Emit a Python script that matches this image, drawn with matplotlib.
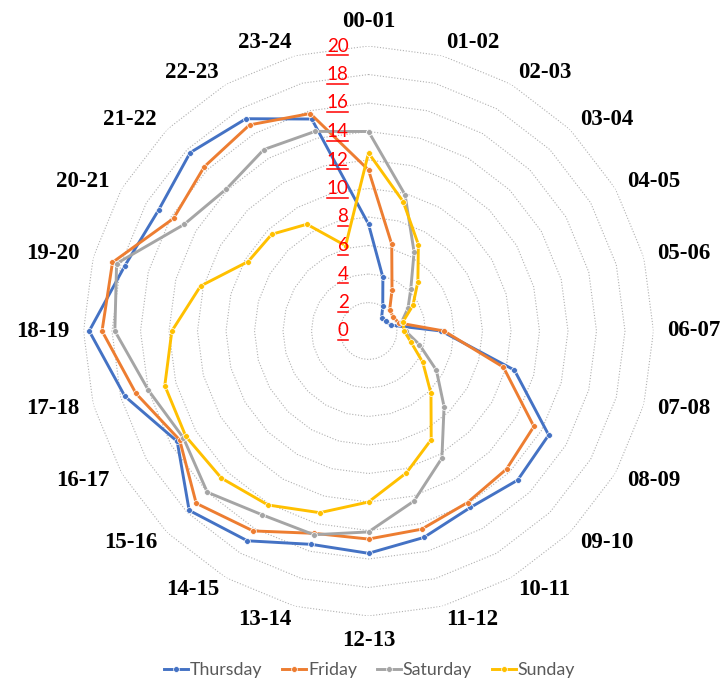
import numpy as np
import matplotlib
matplotlib.use("Agg")
import matplotlib.pyplot as plt
from matplotlib.lines import Line2D
from matplotlib.transforms import offset_copy

categories = ["00-01", "01-02", "02-03", "03-04", "04-05", "05-06", "06-07", "07-08",
              "08-09", "09-10", "10-11", "11-12", "12-13", "13-14", "14-15", "15-16",
              "16-17", "17-18", "18-19", "19-20", "20-21", "21-22", "22-23", "23-24"]

thursday = [7.5, 3.9, 2.0, 1.3, 1.4, 1.6, 5.1, 10.6, 14.6, 14.8, 14.3, 15.0,
            15.6, 15.5, 17.0, 17.8, 15.5, 17.7, 19.6, 17.7, 17.0, 17.7, 17.2, 15.4]
friday = [11.3, 6.3, 3.3, 2.1, 2.0, 2.2, 5.3, 9.8, 13.4, 13.7, 13.9, 14.4,
          14.6, 14.7, 16.2, 17.1, 15.3, 16.9, 18.7, 18.6, 15.8, 16.3, 16.7, 15.8]
saturday = [14.0, 9.9, 6.4, 4.2, 3.2, 2.4, 2.6, 3.7, 5.5, 7.5, 10.3, 12.35,
            14.1, 14.8, 14.9, 16.0, 15.0, 16.0, 17.8, 18.3, 14.95, 14.1, 14.7, 14.5]
sunday = [12.5, 9.4, 7.0, 4.9, 3.6, 2.5, 2.5, 3.1, 4.4, 6.2, 8.8, 10.3,
          12.0, 13.2, 14.1, 14.6, 14.8, 14.8, 13.8, 12.2, 9.75, 9.6, 8.65, 6.2]

series_names = ["Thursday", "Friday", "Saturday", "Sunday"]
series_colors = ["#4472C4", "#ED7D31", "#A5A5A5", "#FFC000"]
radial_ticks = [0, 2, 4, 6, 8, 10, 12, 14, 16, 18, 20]

W, H = 723, 680
fig = plt.figure(figsize=(W / 100, H / 100), dpi=100)
cx, cy, R = 368.5, 331.0, 285.0
ax = fig.add_axes([(cx - R) / W, 1 - (cy + R) / H, 2 * R / W, 2 * R / H], projection="polar")
ax.set_theta_zero_location("N")
ax.set_theta_direction(-1)
ax.set_ylim(0, 20)
ax.grid(False)
ax.set_xticks([])
ax.set_yticks([])
ax.spines["polar"].set_visible(False)
ax.patch.set_alpha(0)

n = len(categories)
theta = np.arange(n) * 2 * np.pi / n
theta_c = np.append(theta, theta[0])

# polygon grid rings
for r in radial_ticks[1:]:
    ax.plot(theta_c, [r] * (n + 1), color="#B0B0B0", lw=0.8,
            linestyle=(0, (1, 1.6)), zorder=1)

data = [thursday, friday, saturday, sunday]
handles = []
for name, vals, col in zip(series_names, data, series_colors):
    v = np.append(vals, vals[0])
    ln, = ax.plot(theta_c, v, color=col, lw=2.1, marker="o", ms=4.2,
                  mfc=col, mec="white", mew=0.5, label=name, zorder=3)
    handles.append(ln)

# category labels
px_per_unit = R / 20.0
r_lab = 299.0 / px_per_unit
for t, lab in zip(theta, categories):
    s, c = np.sin(t), np.cos(t)
    if abs(s) < 0.05:
        ha = "center"
        va = "bottom" if c > 0 else "top"
    else:
        ha = "left" if s > 0 else "right"
        va = "center"
    ax.text(t, r_lab, lab, ha=ha, va=va, fontsize=16.5, fontweight="bold",
            family="Liberation Serif", color="#000000", zorder=5)

# radial labels (red, underlined)
tr = offset_copy(ax.transData, fig=fig, x=-20.0, y=0, units="dots")
rtexts = []
for r in radial_ticks:
    t = ax.text(0, r, str(r), transform=tr, ha="right", va="center",
                fontsize=13.5, family="Lato", color="#FF0000", zorder=6)
    rtexts.append((r, t))

leg = fig.legend(handles=handles, loc="center", bbox_to_anchor=(369.5 / W, 1 - 670.5 / H),
                 ncol=4, frameon=False, prop={"family": "Lato", "size": 12.8},
                 handlelength=1.35, handletextpad=0.12, columnspacing=1.1,
                 borderpad=0, numpoints=1)
for txt in leg.get_texts():
    txt.set_color("#595959")

fig.canvas.draw()
inv = fig.transFigure.inverted()
for r, t in rtexts:
    bb = t.get_window_extent()
    y = ax.transData.transform((0, r))[1] - 9.0
    p0 = inv.transform((bb.x0 + 0.5, y))
    p1 = inv.transform((bb.x1 - 0.5, y))
    fig.add_artist(Line2D([p0[0], p1[0]], [p0[1], p1[1]], transform=fig.transFigure,
                          color="#FF0000", lw=1.1))

fig.savefig("out.png", dpi=100)
